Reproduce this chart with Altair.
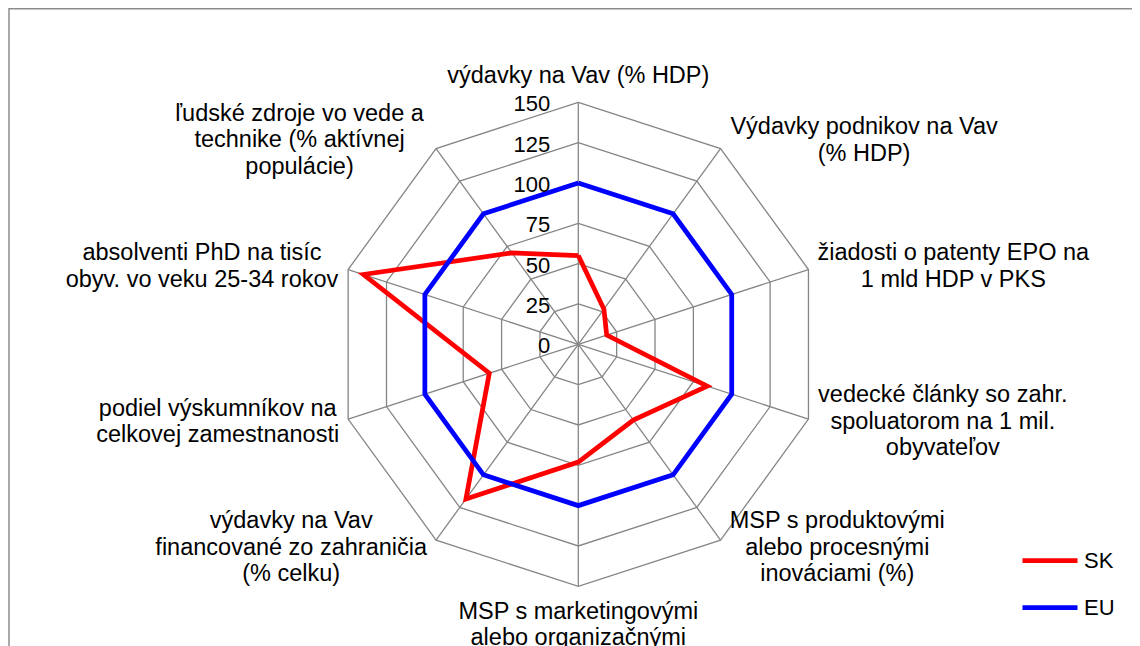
import math
import altair as alt
import pandas as pd

# ---------------- data ----------------
categories = [
    "výdavky na Vav (% HDP)",
    "Výdavky podnikov na Vav\n(% HDP)",
    "žiadosti o patenty EPO na\n1 mld HDP v PKS",
    "vedecké články so zahr.\nspoluatorom na 1 mil.\nobyvateľov",
    "MSP s produktovými\nalebo procesnými\ninováciami (%)",
    "MSP s marketingovými\nalebo organizačnými\ninováciami (%)",
    "výdavky na Vav\nfinancované zo zahraničia\n(% celku)",
    "podiel výskumníkov na\ncelkovej zamestnanosti",
    "absolventi PhD na tisíc\nobyv. vo veku 25-34 rokov",
    "ľudské  zdroje vo vede a\ntechnike (% aktívnej\npopulácie)",
]
sk_values = [55, 27, 18.5, 84, 58, 73, 118.5, 58, 140, 70]
eu_values = [100, 100, 100, 100, 100, 100, 100, 100, 100, 100]
series_names = ["SK", "EU"]
series_colors = ["#FF0000", "#0000FF"]
ticks = [0, 25, 50, 75, 100, 125, 150]

# ---------------- layout ----------------
FONT = "Liberation Sans"
LABEL_FONT = 23.5
TICK_FONT = 22
LH = 26.6
PAD_L, PAD_T = 5, 8
W, H = 1119, 630
RMAX = ticks[-1]
K = 242 / RMAX                      # px per value unit
CX = 578.3 - 8 - PAD_L              # centre in view px
CY = 344.3 - 8 - PAD_T
x_dom = [-CX / K, (W - CX) / K]
y_dom = [-(H - CY) / K, CY / K]
N = len(categories)
BASE_OFF = round(0.3 * LABEL_FONT)  # vega "middle" baseline offset

xs = alt.Scale(domain=x_dom, nice=False, zero=False)
ys = alt.Scale(domain=y_dom, nice=False, zero=False)
X = lambda f: alt.X(f, scale=xs, axis=None)
Y = lambda f: alt.Y(f, scale=ys, axis=None)

CW = {' ': 278, 'a': 556, 'b': 556, 'c': 500, 'd': 556, 'e': 556, 'f': 278, 'g': 556,
      'h': 556, 'i': 222, 'j': 222, 'k': 500, 'l': 222, 'm': 833, 'n': 556, 'o': 556,
      'p': 556, 'r': 333, 's': 500, 't': 278, 'u': 556, 'v': 500, 'w': 722, 'y': 500,
      'z': 500, 'á': 556, 'é': 556, 'í': 278, 'ý': 500, 'č': 500, 'ľ': 292, 'ž': 500,
      'A': 667, 'D': 722, 'E': 667, 'H': 722, 'K': 667, 'M': 833, 'O': 778, 'P': 667,
      'S': 667, 'V': 667, '(': 333, ')': 333, '%': 889, '.': 278, '-': 333}


def tw(s):
    return sum(CW.get(ch, 556) for ch in s) / 1000 * LABEL_FONT


def ang(i):
    return 2 * math.pi * i / N


# grid rings
rings = pd.DataFrame([
    {"ring": t, "idx": j, "x": t * math.sin(ang(j % N)), "y": t * math.cos(ang(j % N))}
    for t in ticks[1:] for j in range(N + 1)
])
spokes = pd.DataFrame([
    {"x": 0.0, "y": 0.0, "x2": RMAX * math.sin(ang(i)), "y2": RMAX * math.cos(ang(i))}
    for i in range(N)
])

rows = []
for name, vals in zip(series_names, [sk_values, eu_values]):
    for j in range(N + 1):
        v = vals[j % N]
        rows.append({"series": name, "idx": j,
                     "x": v * math.sin(ang(j % N)), "y": v * math.cos(ang(j % N))})
series_df = pd.DataFrame(rows)

# category labels (anchor = first line)
lab_rows = []
for i, lab in enumerate(categories):
    lines = lab.split("\n")
    n = len(lines)
    w = max(tw(l) for l in lines)
    s, c = math.sin(ang(i)), math.cos(ang(i))
    vx, vy = RMAX * s * K, -RMAX * c * K
    if i == 0:
        first_base = vy - 19.3 - (n - 1) * LH
        ax = 0.0
    elif 2 * i == N:
        first_base = vy + 32.4
        ax = 0.0
    else:
        first_base = vy + 6.8 - 9.7 * c - (n - 1) * LH / 2
        ax = vx + (1 if s > 0 else -1) * (9 + w / 2)
    ay = first_base - BASE_OFF
    lab_rows.append({"label": lab, "lx": ax / K, "ly": -ay / K})
labels_df = pd.DataFrame(lab_rows)

ticks_df = pd.DataFrame({"t": ticks, "x": [-28 / K] * len(ticks), "y": ticks,
                         "txt": [str(t) for t in ticks]})

GRID = "#868686"

ring_layer = alt.Chart(rings).mark_line(color=GRID, strokeWidth=1.3).encode(
    x=X("x:Q"), y=Y("y:Q"), detail="ring:N", order="idx:Q")
spoke_layer = alt.Chart(spokes).mark_rule(color=GRID, strokeWidth=1.3).encode(
    x=X("x:Q"), y=Y("y:Q"), x2="x2:Q", y2="y2:Q")

color = alt.Color(
    "series:N",
    scale=alt.Scale(domain=series_names, range=series_colors),
    sort=series_names,
    legend=alt.Legend(title=None, orient="none", legendX=1007, legendY=514.5,
                      symbolType="stroke", symbolStrokeWidth=4.75, symbolSize=3025,
                      labelFontSize=22, labelFont=FONT, labelColor="black",
                      labelOffset=4, rowPadding=6, padding=0),
)


def series_layer(name):
    return alt.Chart(series_df).transform_filter(
        alt.datum.series == name
    ).mark_line(strokeWidth=4.75, strokeJoin="miter").encode(
        x=X("x:Q"), y=Y("y:Q"), color=color, order="idx:Q")


label_layer = alt.Chart(labels_df).mark_text(
    font=FONT, fontSize=LABEL_FONT, lineBreak="\n", lineHeight=LH,
    align="center", baseline="middle", color="black"
).encode(x=X("lx:Q"), y=Y("ly:Q"), text="label:N")

tick_layer = alt.Chart(ticks_df).mark_text(
    font=FONT, fontSize=TICK_FONT, align="right", baseline="middle", dy=2, color="black"
).encode(x=X("x:Q"), y=Y("y:Q"), text="txt:N")

frame_df = pd.DataFrame({"k": [0]})
frame_top = alt.Chart(frame_df).mark_rule(color="#8c8c8c", strokeWidth=1.5).encode(
    x=alt.value(-4), x2=alt.value(W + 40), y=alt.value(-PAD_T + 0.75))
frame_left = alt.Chart(frame_df).mark_rule(color="#8c8c8c", strokeWidth=1.5).encode(
    x=alt.value(-4), y=alt.value(-PAD_T), y2=alt.value(H + 40))

chart = alt.layer(
    ring_layer, spoke_layer, series_layer("SK"), series_layer("EU"),
    tick_layer, label_layer, frame_top, frame_left
).properties(
    width=W, height=H,
    padding={"left": PAD_L, "top": PAD_T, "right": 0, "bottom": 0},
    autosize=alt.AutoSizeParams(type="none"),
    background="white",
).configure_view(stroke=None)

chart.save("out.html", embed_options={"renderer": "svg", "actions": False})
